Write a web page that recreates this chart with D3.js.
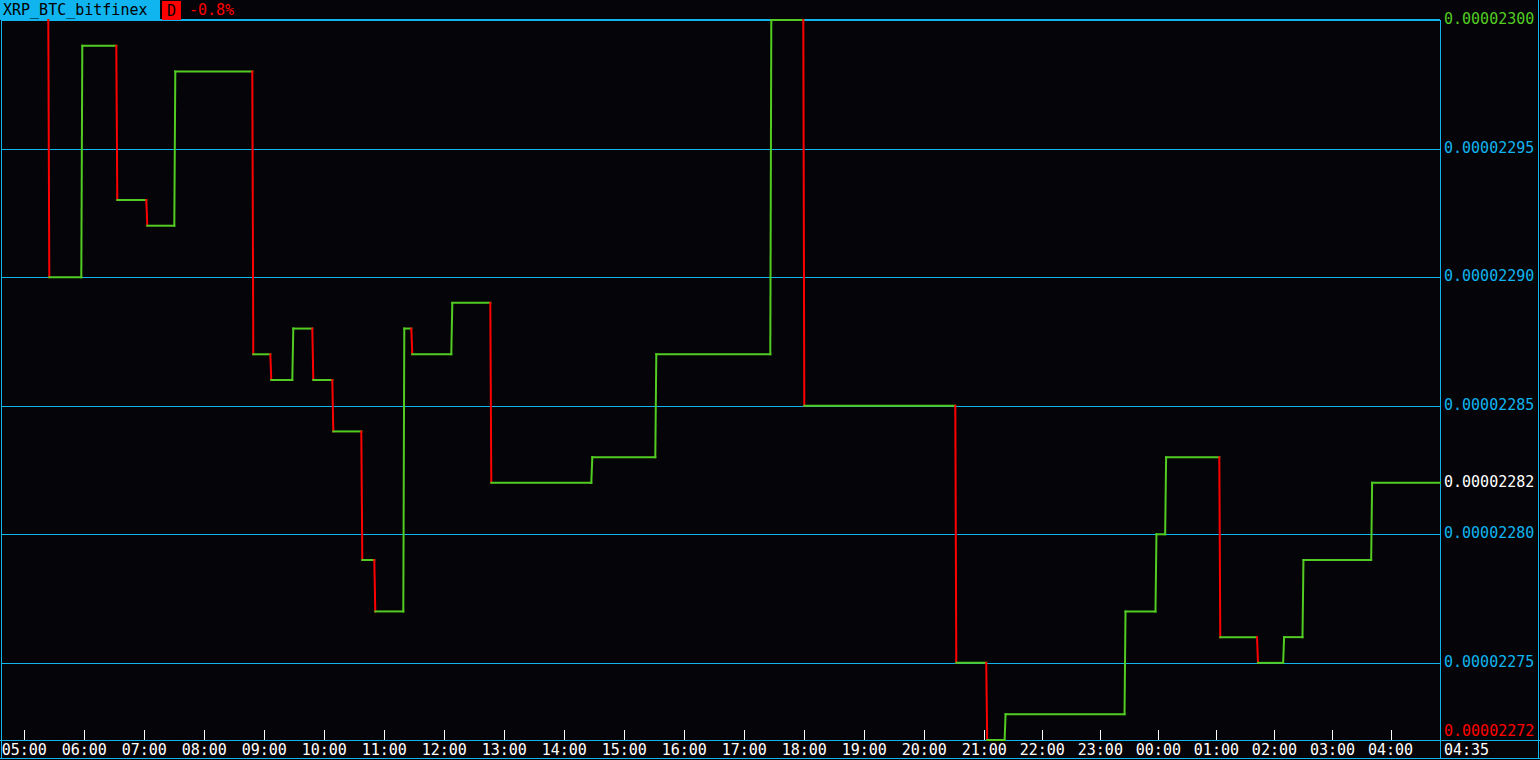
<!DOCTYPE html>
<html>
<head>
<meta charset="utf-8">
<script src="https://cdn.jsdelivr.net/npm/d3@7"></script>
<style>
  html, body { margin: 0; padding: 0; background: #050408; }
  svg { display: block; }
  text { font-family: "DejaVu Sans Mono", "Liberation Mono", monospace; font-size: 15px; }
</style>
</head>
<body>
<svg id="chart" width="1540" height="760"></svg>
<script>
// ---------------- data ----------------
const symbol = "XRP_BTC_bitfinex";
const periodLabel = "D";
const unit = 1e-8;
// times at which a new price begins (1-minute resolution)
const changeTimes = [
  "2018-03-10 05:24", "2018-03-10 05:25", "2018-03-10 05:58", "2018-03-10 06:33",
  "2018-03-10 07:03", "2018-03-10 07:31", "2018-03-10 08:49", "2018-03-10 09:07",
  "2018-03-10 09:29", "2018-03-10 09:49", "2018-03-10 10:09", "2018-03-10 10:38",
  "2018-03-10 10:51", "2018-03-10 11:20", "2018-03-10 11:28", "2018-03-10 12:08",
  "2018-03-10 12:47", "2018-03-10 14:28", "2018-03-10 15:32", "2018-03-10 17:27",
  "2018-03-10 18:00", "2018-03-10 20:32", "2018-03-10 21:03", "2018-03-10 21:22",
  "2018-03-10 23:26", "2018-03-10 23:58", "2018-03-11 00:08", "2018-03-11 01:04",
  "2018-03-11 01:43", "2018-03-11 02:10", "2018-03-11 02:30", "2018-03-11 03:41"
];
// price in units of 1e-8 BTC
const prices = [
  2300, 2290, 2299, 2293,
  2292, 2298, 2287, 2286,
  2288, 2286, 2284, 2279,
  2277, 2288, 2287, 2289,
  2282, 2283, 2287, 2300,
  2285, 2275, 2272, 2273,
  2277, 2280, 2283, 2276,
  2275, 2276, 2279, 2282
];
const currentTime = "2018-03-11 04:35";
const gridTicks = [2300, 2295, 2290, 2285, 2280, 2275];
// x-axis anchors (the feed has gaps after 21:00, so the scale is piecewise)
const xAnchors = ["2018-03-10 05:00", "2018-03-10 21:00", "2018-03-11 04:00"];

// ---------------- styles ----------------
const C_BG = "#050408", C_CYAN = "#10b4ee", C_GREEN = "#52cc22", C_RED = "#ff0000", C_WHITE = "#ffffff";
const plot = { left: 1, right: 1440, top: 20, bottom: 740 };

const parse = d3.timeParse("%Y-%m-%d %H:%M");
const data = changeTimes.map((t, i) => ({ t: parse(t), v: prices[i] }));

const x = d3.scaleTime()
  .domain(xAnchors.map(parse))
  .range([24.3, 984.3, 1390.5]);
const y = d3.scaleLinear()
  .domain([2272, 2300])
  .range([plot.bottom, plot.top]);

const svg = d3.select("#chart");
svg.append("rect").attr("width", 1540).attr("height", 760).attr("fill", C_BG);

// grid lines
svg.append("g").selectAll("line").data(gridTicks).join("line")
  .attr("x1", plot.left).attr("x2", plot.right)
  .attr("y1", d => Math.round(y(d)) + 0.5).attr("y2", d => Math.round(y(d)) + 0.5)
  .attr("stroke", C_CYAN).attr("stroke-width", 1);

// frame
const frame = svg.append("g").attr("stroke", C_CYAN).attr("stroke-width", 1).attr("fill", "none");
frame.append("line").attr("x1", 1.5).attr("x2", 1.5).attr("y1", plot.top).attr("y2", 759);
frame.append("line").attr("x1", plot.right + 0.5).attr("x2", plot.right + 0.5).attr("y1", plot.top).attr("y2", 759);
frame.append("line").attr("x1", 1538.5).attr("x2", 1538.5).attr("y1", 0).attr("y2", 759);
frame.append("line").attr("x1", 0).attr("x2", 1540).attr("y1", plot.bottom + 0.5).attr("y2", plot.bottom + 0.5);
frame.append("line").attr("x1", 0).attr("x2", 1540).attr("y1", 758.5).attr("y2", 758.5);
frame.append("line").attr("x1", 0).attr("x2", plot.right).attr("y1", 19.5).attr("y2", 19.5);

// x axis ticks + labels
const hours = d3.timeHour.every(1).range(parse("2018-03-10 05:00"), parse("2018-03-11 04:01"));
const fmt = d3.timeFormat("%H:%M");
const xt = svg.append("g");
xt.selectAll("line").data(hours).join("line")
  .attr("x1", d => Math.round(x(d)) + 0.5).attr("x2", d => Math.round(x(d)) + 0.5)
  .attr("y1", 730).attr("y2", plot.bottom)
  .attr("stroke", C_WHITE).attr("stroke-width", 1);
xt.selectAll("text").data(hours).join("text")
  .attr("x", d => x(d)).attr("y", 750)
  .attr("text-anchor", "middle").attr("dominant-baseline", "central")
  .attr("fill", C_WHITE).text(d => fmt(d));
svg.append("text").attr("x", 1444).attr("y", 750).attr("dominant-baseline", "central")
  .attr("fill", C_WHITE).text(fmt(parse(currentTime)));

// price step line
const oneMin = 60000;
const lines = svg.append("g").attr("fill", "none").attr("stroke-width", 2).attr("stroke-linecap", "square");
data.forEach((d, i) => {
  const next = data[i + 1];
  const xEnd = next ? x(new Date(next.t.getTime() - oneMin)) : plot.right;
  lines.append("line")
    .attr("x1", x(d.t)).attr("x2", xEnd)
    .attr("y1", y(d.v)).attr("y2", y(d.v))
    .attr("stroke", C_GREEN);
  if (next) {
    lines.append("line")
      .attr("x1", xEnd).attr("x2", x(next.t))
      .attr("y1", y(d.v)).attr("y2", y(next.v))
      .attr("stroke", next.v < d.v ? C_RED : C_GREEN);
  }
});

// y labels
const fmtP = v => (v * unit).toFixed(8);
const last = prices[prices.length - 1];
const maxP = d3.max(prices), minP = d3.min(prices);
const yl = svg.append("g");
const labelItems = gridTicks.filter(v => v !== maxP).map(v => ({ v, c: C_CYAN }))
  .concat([{ v: maxP, c: C_GREEN }, { v: minP, c: C_RED }, { v: last, c: C_WHITE }]);
yl.selectAll("text").data(labelItems).join("text")
  .attr("x", 1444)
  .attr("y", d => Math.min(y(d.v) - 1, 731))
  .attr("dominant-baseline", "central")
  .attr("fill", d => d.c)
  .text(d => fmtP(d.v));

// header
const change = (last - prices[0]) / prices[0] * 100;
svg.append("rect").attr("x", 0).attr("y", 0).attr("width", 160).attr("height", 19).attr("fill", C_CYAN);
svg.append("text").attr("x", 3).attr("y", 10).attr("dominant-baseline", "central")
  .attr("fill", "#000").text(symbol);
svg.append("rect").attr("x", 162).attr("y", 1).attr("width", 19).attr("height", 19).attr("fill", C_RED);
svg.append("text").attr("x", 171.5).attr("y", 10.5).attr("text-anchor", "middle").attr("dominant-baseline", "central")
  .attr("fill", "#000").text(periodLabel);
svg.append("text").attr("x", 189).attr("y", 10).attr("dominant-baseline", "central")
  .attr("fill", C_RED).text(change.toFixed(1) + "%");
</script>
</body>
</html>
